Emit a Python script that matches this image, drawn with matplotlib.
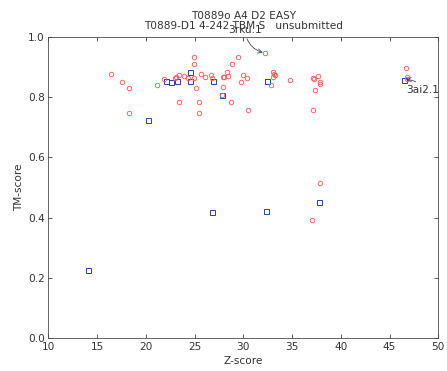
import matplotlib
matplotlib.use("Agg")
import matplotlib.pyplot as plt

# red circles: all models
z_all = [16.4, 17.55, 18.3, 18.3, 21.15, 21.9, 23.1, 23.45, 23.0, 23.97,
         24.28, 24.9, 23.4, 24.97, 24.9, 25.2, 25.5, 25.5, 25.7, 26.07,
         26.7, 26.77, 27.9, 28.07, 28.37, 28.42, 27.9, 27.83, 28.7, 28.8,
         29.45, 29.73, 29.97, 30.35, 30.45, 32.2, 33.08, 33.0, 33.3, 33.15,
         32.87, 34.8, 37.1, 37.3, 37.7, 37.83, 37.87, 37.35, 37.1, 46.7,
         46.75, 46.75, 37.87, 37.08]
tm_all = [0.875, 0.849, 0.831, 0.746, 0.838, 0.860, 0.867, 0.872, 0.862, 0.870,
          0.861, 0.864, 0.784, 0.932, 0.909, 0.831, 0.784, 0.746, 0.875, 0.867,
          0.871, 0.864, 0.867, 0.867, 0.881, 0.870, 0.832, 0.807, 0.784, 0.909,
          0.932, 0.848, 0.871, 0.864, 0.755, 0.945, 0.883, 0.867, 0.873, 0.876,
          0.839, 0.855, 0.863, 0.860, 0.870, 0.849, 0.843, 0.824, 0.756, 0.897,
          0.867, 0.858, 0.515, 0.391]

# blue squares
z_sel = [14.07, 20.18, 22.05, 22.54, 23.17, 24.57, 24.5, 26.92, 27.83, 26.75,
         32.3, 32.44, 37.73, 46.5]
tm_sel = [0.226, 0.723, 0.853, 0.848, 0.853, 0.882, 0.853, 0.853, 0.807, 0.420,
          0.421, 0.853, 0.452, 0.856]

labels = ["3rku.1", "3ai2.1"]
label_xy = [(32.2, 0.945), (46.5, 0.856)]
label_text_xy = [(30.17, 1.022), (48.43, 0.823)]

plt.rcParams["font.family"] = "DejaVu Sans"
plt.rcParams["font.size"] = 10.5

fig = plt.figure(figsize=(447 / 72, 371 / 72), dpi=72)
ax = fig.add_axes([0.108, 0.088, 0.8725, 0.8135])

ax.plot(z_sel, tm_sel, "s", ms=5, mfc="none", mec="#2a44a8", mew=1.0)
ax.plot(z_all, tm_all, "o", ms=4.5, mfc="none", mec="#ff5a5a", mew=0.9)

for lab, xy, txy in zip(labels, label_xy, label_text_xy):
    ax.annotate(lab, xy=xy, xytext=txy, ha="center", va="center",
                color="#333333", fontsize=10.5,
                arrowprops=dict(arrowstyle="->", color="#444444", lw=0.8,
                                connectionstyle="arc3,rad=0.35"))

ax.set_xlim(10, 50)
ax.set_ylim(0, 1.0)
ax.set_xticks(range(10, 51, 5))
ax.set_yticks([0.0, 0.2, 0.4, 0.6, 0.8, 1.0])
ax.set_yticklabels(["0.0", "0.2", "0.4", "0.6", "0.8", "1.0"])
ax.tick_params(direction="in", top=True, right=True, length=4,
               colors="#333333", labelsize=10.5)
for s in ax.spines.values():
    s.set_color("#444444")
ax.set_xlabel("Z-score", color="#333333")
ax.set_ylabel("TM-score", color="#333333")
ax.set_title("T0889o A4 D2 EASY\nT0889-D1 4-242 TBM S   unsubmitted",
             fontsize=10.5, color="#333333", linespacing=1.0, pad=8)

fig.savefig("out.png", dpi=72, facecolor="white")
